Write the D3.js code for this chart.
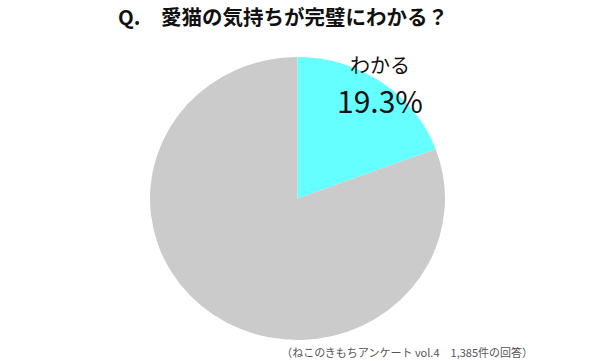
<!DOCTYPE html>
<html>
<head>
<meta charset="utf-8">
<script src="https://cdn.jsdelivr.net/npm/d3@7"></script>
<style>
body { margin: 0; background: #fff; }
text { font-family: "Noto Sans CJK JP", "Noto Sans", sans-serif; }
</style>
</head>
<body>
<svg id="chart" width="600" height="361"></svg>
<script>
var categories = ["わかる", "その他"];
var values = [19.3, 80.7];
var colors = ["#66ffff", "#cbcbcb"];
var title = "Q.　愛猫の気持ちが完璧にわかる？";
var note = "（ねこのきもちアンケート vol.4　1,385件の回答）";

var svg = d3.select("#chart");

var cx = 297.5, cy = 198.5, rx = 147.5, ry = 141.5;

//タイトル
svg.append("text")
    .attr("x", 118)
    .attr("y", 25)
    .attr("font-size", "20.5px")
    .attr("font-weight", "bold")
    .attr("fill", "#111")
    .text(title);

var pie = d3.pie().sort(null).value(function(d){ return d; });
var arcs = pie(values);
var arc = d3.arc().innerRadius(0).outerRadius(rx);

//少し縦につぶれた円
var g = svg.append("g")
    .attr("transform", "translate(" + cx + "," + cy + ") scale(1," + (ry / rx) + ")");

g.selectAll("path")
    .data(arcs)
    .enter()
    .append("path")
    .attr("d", arc)
    .attr("fill", function(d, i){ return colors[i]; });

//ラベル（最初のスライスのみ）
var lx = 380;
svg.append("text")
    .attr("x", lx)
    .attr("y", 73)
    .attr("text-anchor", "middle")
    .attr("font-size", "20px")
    .attr("fill", "#111")
    .text(categories[0]);

svg.append("text")
    .attr("x", lx)
    .attr("y", 113)
    .attr("text-anchor", "middle")
    .attr("font-size", "30px")
    .attr("font-family", "'Liberation Sans', Arial, sans-serif")
    .attr("fill", "#111")
    .text(values[0].toFixed(1) + "%");

//注記
svg.append("text")
    .attr("x", 533)
    .attr("y", 357)
    .attr("text-anchor", "end")
    .attr("font-size", "11px")
    .attr("fill", "#555")
    .text(note);
</script>
</body>
</html>
